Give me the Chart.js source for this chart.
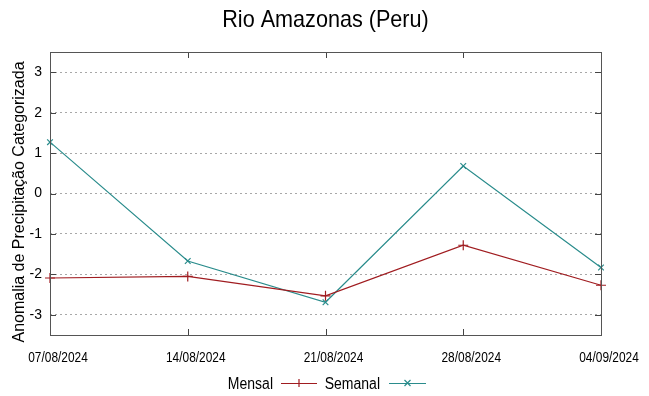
<!DOCTYPE html>
<html>
<head>
<meta charset="utf-8">
<script src="https://cdn.jsdelivr.net/npm/chart.js@4"></script>
<style>
  body { margin: 0; background: #fff; }
  canvas { display: block; }
</style>
</head>
<body>
<canvas id="chart" width="649" height="396"></canvas>
<script>
// datos
const fechas = ['07/08/2024', '14/08/2024', '21/08/2024', '28/08/2024', '04/09/2024'];
const mensal = [-2.09, -2.05, -2.53, -1.28, -2.27];
const semanal = [1.27, -1.67, -2.69, 0.68, -1.83];
const yTicks = [-3, -2, -1, 0, 1, 2, 3];

const titulo = 'Rio Amazonas (Peru)';
const tituloY = 'Anomalia de Precipitação Categorizada';

const rojo = '#a01c20';
const verde = '#2a8c8c';
const fuente = '"Liberation Sans", Arial, sans-serif';

// texto estrechado en horizontal (la fuente del original es mas angosta)
function texto(c, str, x, y, size, sx, align) {
    c.save();
    c.translate(x, y);
    c.scale(sx, 1);
    c.font = size + 'px ' + fuente;
    c.textAlign = align;
    c.fillText(str, 0, 0);
    c.restore();
}

// marco, marcas de eje, titulos y leyenda estilo gnuplot
const marcoPlugin = {
    id: 'marco',
    afterDraw(chart) {
        const c = chart.ctx;
        const a = chart.chartArea;
        const x = chart.scales.x;
        const y = chart.scales.y;
        c.save();
        c.strokeStyle = '#444';
        c.lineWidth = 1;
        c.beginPath();
        yTicks.forEach(v => {
            const py = Math.round(y.getPixelForValue(v)) + 0.5;
            c.moveTo(a.left, py); c.lineTo(a.left + 6, py);
            c.moveTo(a.right, py); c.lineTo(a.right - 6, py);
        });
        fechas.forEach((f, i) => {
            const px = Math.round(x.getPixelForValue(i)) + 0.5;
            c.moveTo(px, a.bottom); c.lineTo(px, a.bottom - 6);
            c.moveTo(px, a.top); c.lineTo(px, a.top + 6);
        });
        c.stroke();
        c.strokeStyle = '#555';
        c.strokeRect(Math.round(a.left) + 0.5, Math.round(a.top) + 0.5,
            Math.round(a.right - a.left), Math.round(a.bottom - a.top));

        c.fillStyle = '#000';
        c.textBaseline = 'alphabetic';

        // etiquetas del eje x
        fechas.forEach((f, i) => {
            texto(c, f, x.getPixelForValue(i) + 8, 362, 14.5, 0.82, 'center');
        });

        // titulo
        texto(c, titulo, 325.5, 27, 24, 0.9, 'center');

        // titulo eje y
        c.save();
        c.translate(24, 202);
        c.rotate(-Math.PI / 2);
        c.font = '16px ' + fuente;
        c.textAlign = 'center';
        c.fillText(tituloY, 0, 0);
        c.restore();

        // leyenda
        const ly = 383;
        const items = [
            { label: 'Mensal', color: rojo, end: 273, x0: 281, x1: 317, cross: false },
            { label: 'Semanal', color: verde, end: 380, x0: 389, x1: 426, cross: true }
        ];
        items.forEach(it => {
            c.fillStyle = '#000';
            texto(c, it.label, it.end, ly + 6, 16, 0.875, 'right');
            const xm = (it.x0 + it.x1) / 2;
            c.strokeStyle = it.color;
            c.lineWidth = 1.2;
            c.beginPath();
            c.moveTo(it.x0, ly + 0.5); c.lineTo(it.x1, ly + 0.5);
            if (it.cross) {
                c.moveTo(xm - 3, ly - 3); c.lineTo(xm + 3, ly + 3);
                c.moveTo(xm - 3, ly + 3); c.lineTo(xm + 3, ly - 3);
            } else {
                c.moveTo(xm, ly - 4); c.lineTo(xm, ly + 4);
            }
            c.stroke();
        });
        c.restore();
    }
};

new Chart(document.getElementById('chart'), {
    type: 'line',
    data: {
        labels: fechas,
        datasets: [
            {
                label: 'Mensal',
                data: mensal,
                borderColor: rojo,
                backgroundColor: rojo,
                borderWidth: 1.2,
                pointStyle: 'cross',
                pointRadius: 5,
                pointBorderWidth: 1.2,
                tension: 0
            },
            {
                label: 'Semanal',
                data: semanal,
                borderColor: verde,
                backgroundColor: verde,
                borderWidth: 1.2,
                pointStyle: 'crossRot',
                pointRadius: 4,
                pointBorderWidth: 1.2,
                tension: 0
            }
        ]
    },
    options: {
        responsive: false,
        animation: false,
        layout: { padding: { top: 52, right: 48, left: 0, bottom: 0 } },
        plugins: {
            legend: { display: false },
            title: { display: false },
            tooltip: { enabled: false }
        },
        scales: {
            x: {
                type: 'category',
                offset: false,
                afterFit(axis) { axis.height = 61; },
                grid: { display: false, drawTicks: false },
                border: { display: false },
                ticks: { display: false }
            },
            y: {
                min: -3.5,
                max: 3.5,
                afterFit(axis) { axis.width = 50; },
                afterBuildTicks(axis) { axis.ticks = yTicks.map(v => ({ value: v })); },
                grid: {
                    drawTicks: false,
                    color: '#a8a8a8',
                    lineWidth: 1
                },
                border: { display: false, dash: [2, 3] },
                ticks: {
                    padding: 8,
                    color: '#000',
                    font: { family: fuente, size: 14 }
                }
            }
        }
    },
    plugins: [marcoPlugin]
});
</script>
</body>
</html>
